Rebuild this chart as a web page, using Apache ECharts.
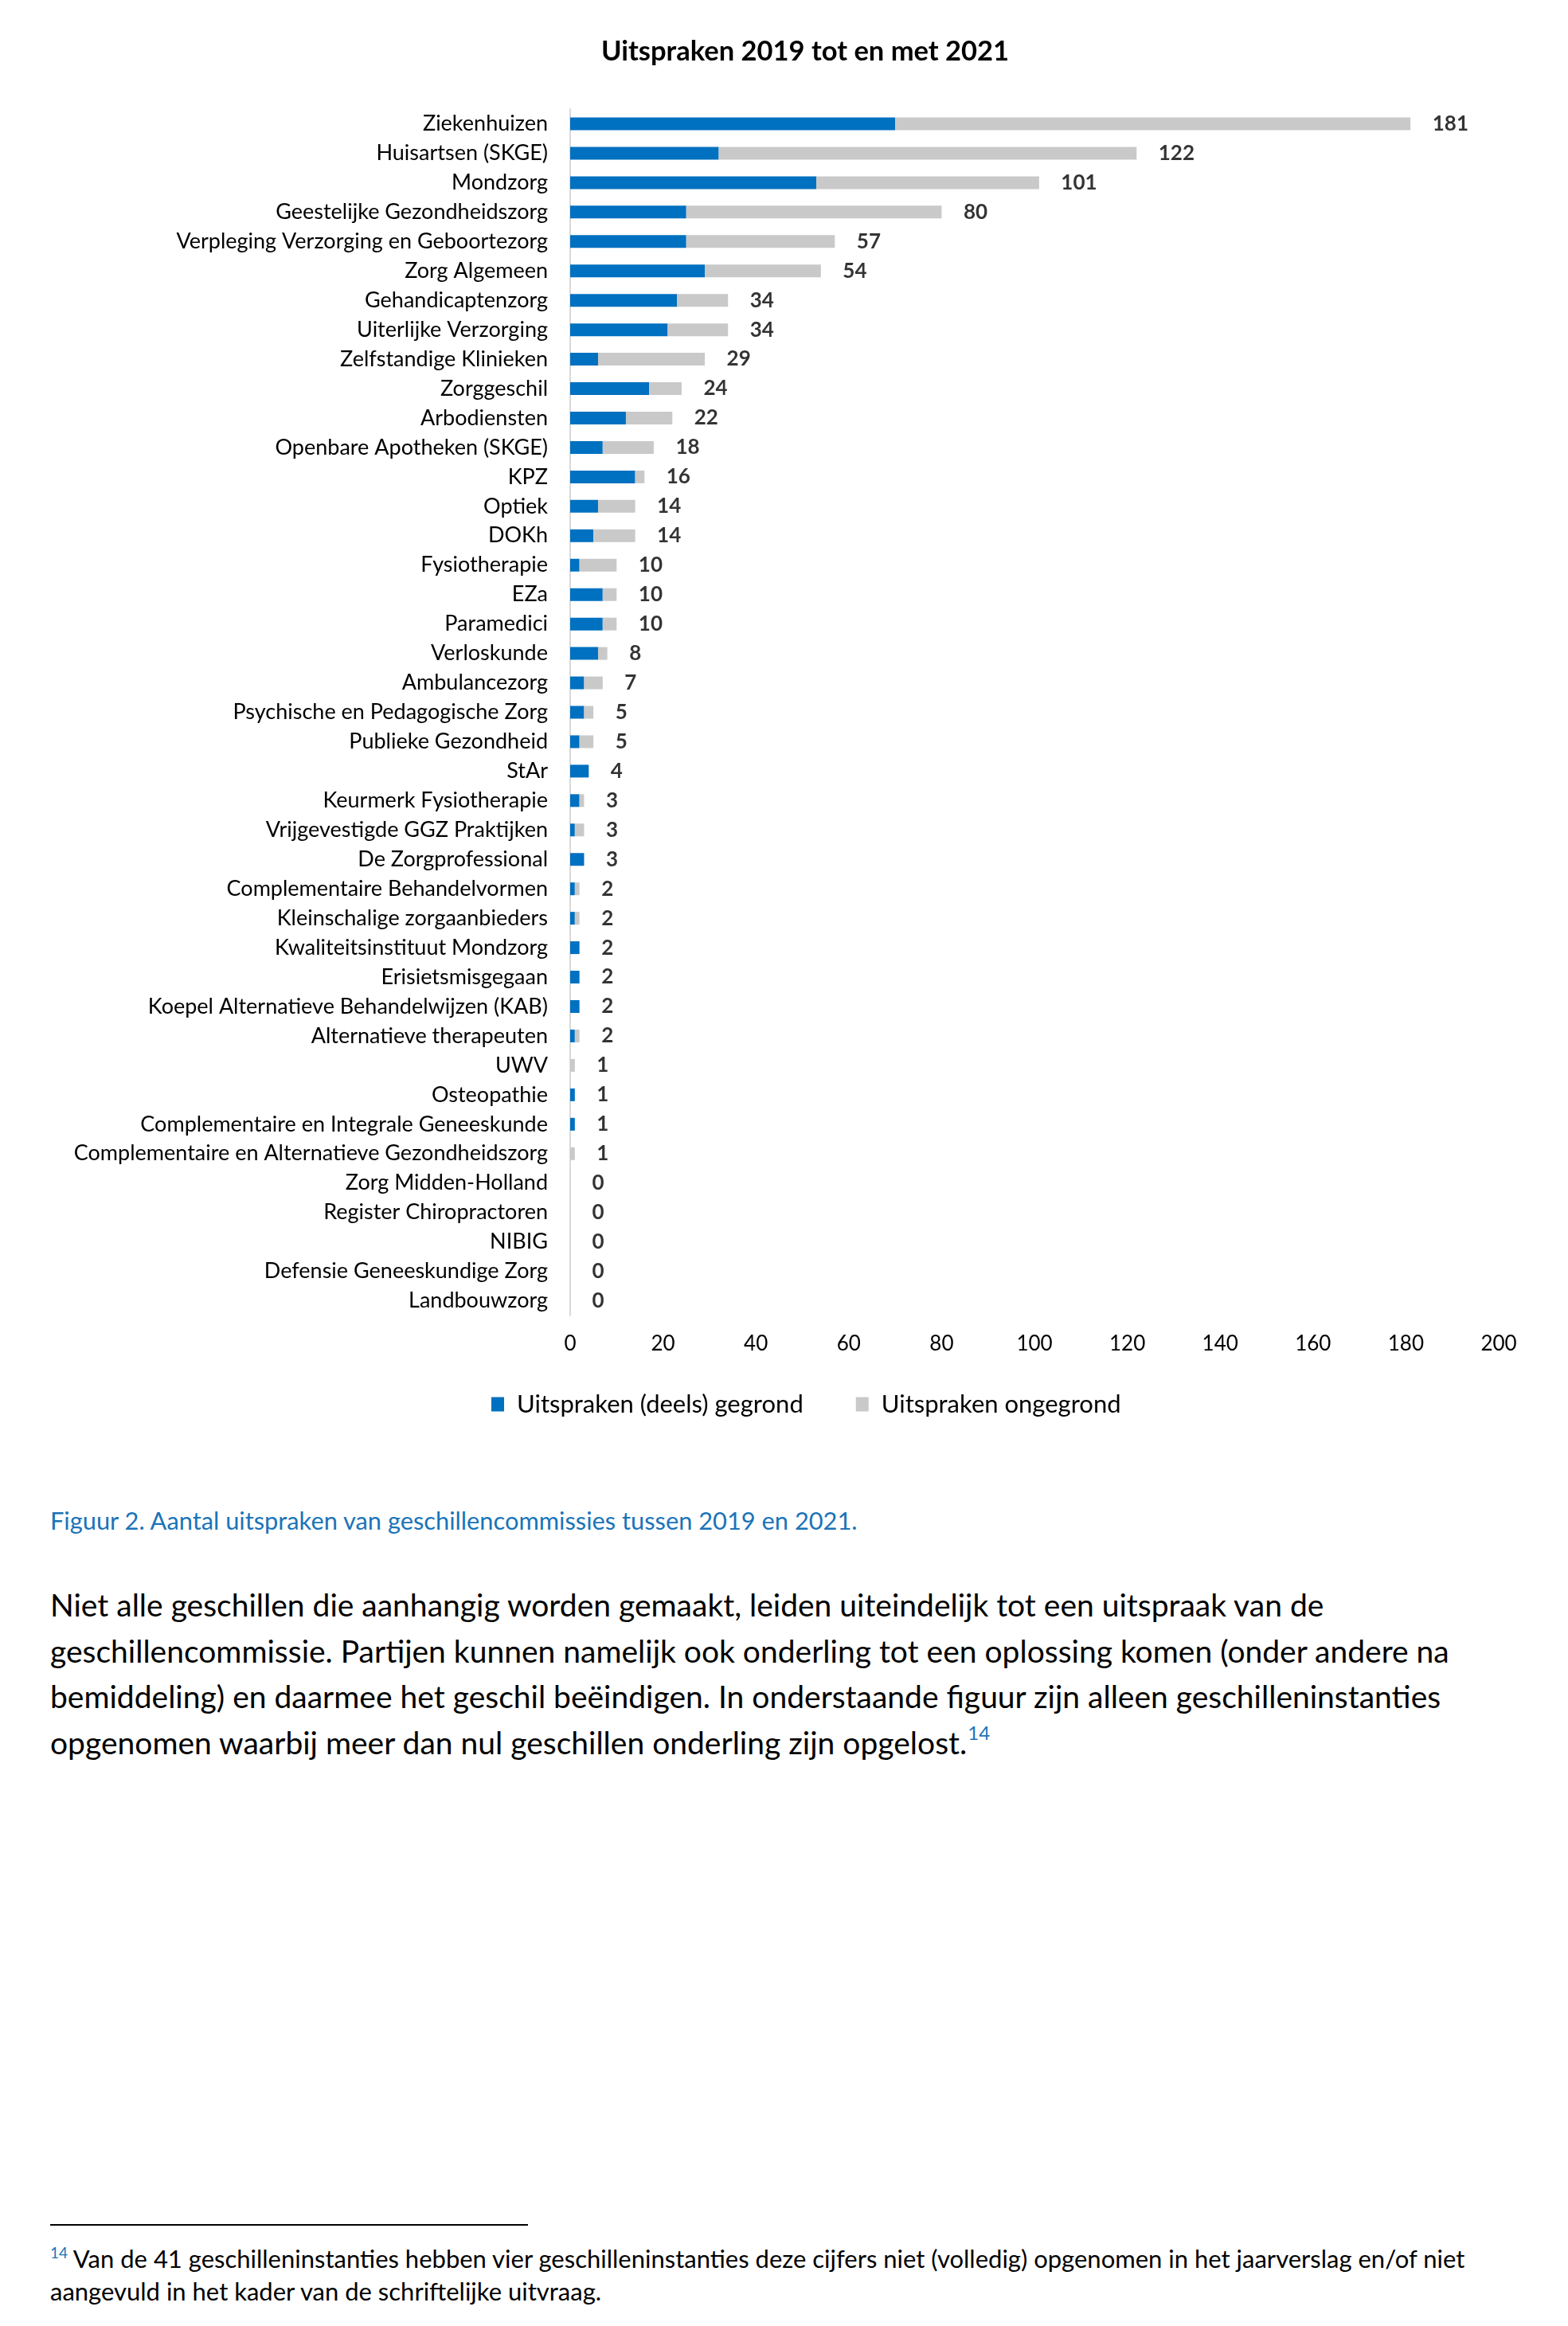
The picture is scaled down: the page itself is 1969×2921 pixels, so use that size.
<!DOCTYPE html>
<html><head><meta charset="utf-8">
<script src="https://cdn.jsdelivr.net/npm/echarts@6/dist/echarts.min.js"></script>
<style>
html,body{margin:0;padding:0;background:#fff;}
#wrap{position:relative;width:1969px;height:2921px;}
#chart{position:absolute;left:0;top:0;width:1969px;height:1830px;}
.t{position:absolute;font-family:Lato,"Open Sans",sans-serif;color:#000;white-space:nowrap;}
.sup{position:relative;line-height:0;vertical-align:baseline;color:#1a74b8;}
</style></head>
<body><div id="wrap">
<div id="chart"></div>
<div class="t" style="left:63px;top:1891px;font-size:30.8px;line-height:38px;color:#1a74b8;">Figuur 2. Aantal uitspraken van geschillencommissies tussen 2019 en 2021.</div>
<div class="t" style="left:63px;top:1987px;font-size:39px;line-height:57.7px;">Niet alle geschillen die aanhangig worden gemaakt, leiden uiteindelijk tot een uitspraak van de<br>geschillencommissie. Partijen kunnen namelijk ook onderling tot een oplossing komen (onder andere na<br>bemiddeling) en daarmee het geschil beëindigen. In onderstaande figuur zijn alleen geschilleninstanties<br>opgenomen waarbij meer dan nul geschillen onderling zijn opgelost.<span class="sup" style="font-size:24px;top:-18px;left:1px;">14</span></div>
<div style="position:absolute;left:63px;top:2793px;width:600px;height:2px;background:#000;"></div>
<div class="t" style="left:63px;top:2816px;font-size:31px;line-height:41px;"><span class="sup" style="font-size:19px;top:-12px;">14</span> Van de 41 geschilleninstanties hebben vier geschilleninstanties deze cijfers niet (volledig) opgenomen in het jaarverslag en/of niet<br>aangevuld in het kader van de schriftelijke uitvraag.</div>
</div>
<script>
const categories = ["Ziekenhuizen","Huisartsen (SKGE)","Mondzorg","Geestelijke Gezondheidszorg","Verpleging Verzorging en Geboortezorg","Zorg Algemeen","Gehandicaptenzorg","Uiterlijke Verzorging","Zelfstandige Klinieken","Zorggeschil","Arbodiensten","Openbare Apotheken (SKGE)","KPZ","Optiek","DOKh","Fysiotherapie","EZa","Paramedici","Verloskunde","Ambulancezorg","Psychische en Pedagogische Zorg","Publieke Gezondheid","StAr","Keurmerk Fysiotherapie","Vrijgevestigde GGZ Praktijken","De Zorgprofessional","Complementaire Behandelvormen","Kleinschalige zorgaanbieders","Kwaliteitsinstituut Mondzorg","Erisietsmisgegaan","Koepel Alternatieve Behandelwijzen (KAB)","Alternatieve therapeuten","UWV","Osteopathie","Complementaire en Integrale Geneeskunde","Complementaire en Alternatieve Gezondheidszorg","Zorg Midden-Holland","Register Chiropractoren","NIBIG","Defensie Geneeskundige Zorg","Landbouwzorg"];
const totals = [181,122,101,80,57,54,34,34,29,24,22,18,16,14,14,10,10,10,8,7,5,5,4,3,3,3,2,2,2,2,2,2,1,1,1,1,0,0,0,0,0];
const gegrond = [70,32,53,25,25,29,23,21,6,17,12,7,14,6,5,2,7,7,6,3,3,2,4,2,1,3,1,1,2,2,2,1,0,1,1,0,0,0,0,0,0];
const ongegrond = totals.map((t,i)=>t-gegrond[i]);
const xTicks = [0,20,40,60,80,100,120,140,160,180,200];
const legendNames = ["Uitspraken (deels) gegrond","Uitspraken ongegrond"];
const FONT = 'Lato, "Open Sans", sans-serif';

const chart = echarts.init(document.getElementById('chart'), null, {renderer:'canvas'});
chart.setOption({
  animation:false,
  textStyle:{fontFamily:FONT},
  title:{text:"Uitspraken 2019 tot en met 2021",left:1006,textAlign:'center',top:42,
    textStyle:{fontFamily:FONT,fontSize:34.5,fontWeight:'bold',color:'#000'}},
  legend:{top:1743,left:612,itemWidth:16,itemHeight:18,itemGap:66,icon:'rect',
    data:legendNames,textStyle:{fontFamily:FONT,fontSize:31,color:'#000',padding:[0,0,0,11]}},
  grid:{left:716,right:87,top:137,height:1515,containLabel:false},
  xAxis:{type:'value',min:xTicks[0],max:xTicks[xTicks.length-1],interval:20,
    axisLine:{show:false},axisTick:{show:false},splitLine:{show:false},
    axisLabel:{fontFamily:FONT,fontSize:26,color:'#000',margin:23}},
  yAxis:{type:'category',data:categories,inverse:true,
    axisLine:{show:true,lineStyle:{color:'#d9d9d9',width:2}},axisTick:{show:false},
    axisLabel:{fontFamily:FONT,fontSize:27,color:'#000',margin:28}},
  series:[
    {name:legendNames[0],type:'bar',stack:'s',data:gegrond,barWidth:16,itemStyle:{color:'#0070c0'}},
    {name:legendNames[1],type:'bar',stack:'s',data:ongegrond,barWidth:16,itemStyle:{color:'#c9c9c9'}},
    {name:'totaal',type:'scatter',data:totals,symbolSize:1,itemStyle:{color:'transparent'},silent:true,
      label:{show:true,position:'right',distance:27,formatter:p=>p.value,
        fontFamily:FONT,fontSize:26,fontWeight:'bold',color:'#000'}}
  ]
});
</script>
</body></html>
